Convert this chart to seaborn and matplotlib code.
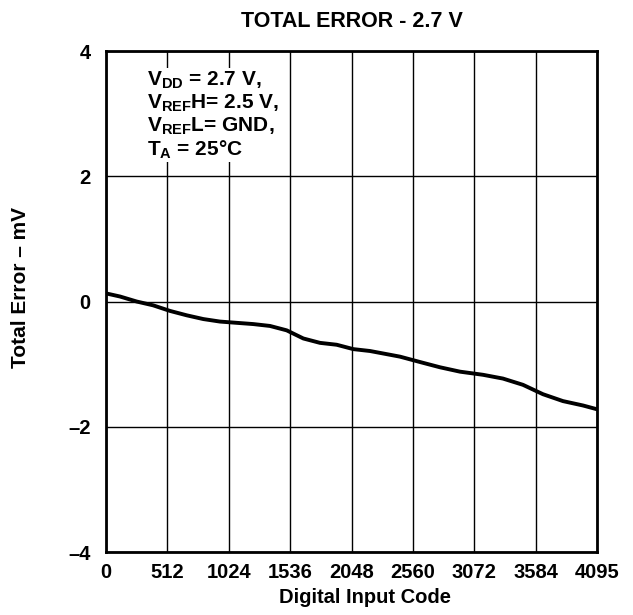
import numpy as np
import pandas as pd
import matplotlib
matplotlib.use("Agg")
import matplotlib.pyplot as plt
import seaborn as sns

# valores (codigo de entrada vs error total en mV)
codigos = [0, 117, 256, 392, 534, 673, 812, 951, 1090, 1229, 1368, 1507,
           1646, 1785, 1924, 2063, 2202, 2341, 2452, 2627, 2786, 2953, 3145,
           3311, 3478, 3645, 3812, 3979, 4095]
error_mv = [0.13, 0.08, 0.00, -0.06, -0.15, -0.22, -0.28, -0.32, -0.34, -0.36,
            -0.39, -0.46, -0.59, -0.66, -0.69, -0.76, -0.79, -0.84, -0.88,
            -0.97, -1.05, -1.12, -1.17, -1.23, -1.33, -1.48, -1.59, -1.66, -1.72]
xticks = [0, 512, 1024, 1536, 2048, 2560, 3072, 3584, 4095]
yticks = [-4, -2, 0, 2, 4]
ytick_labels = ["\u20134", "\u20132", "0", "2", "4"]

df = pd.DataFrame({"Codigo": codigos, "Error": error_mv})

sns.set_theme(style="white", rc={"text.color": "black", "axes.labelcolor": "black",
                                 "xtick.color": "black", "ytick.color": "black"})
plt.rcParams["font.family"] = ["Liberation Sans", "DejaVu Sans"]
plt.rcParams["mathtext.fontset"] = "custom"
plt.rcParams["mathtext.rm"] = "Liberation Sans:bold"
plt.rcParams["mathtext.bf"] = "Liberation Sans:bold"

fig = plt.figure(figsize=(6.33, 6.15), dpi=100)
ax = fig.add_axes([0.1675, 0.1024, 0.7755, 0.8146])

sns.lineplot(x="Codigo", y="Error", data=df, color="black", linewidth=2.8, ax=ax)

ax.set_xlim(0, 4095)
ax.set_ylim(-4, 4)
ax.set_xticks(xticks)
ax.set_yticks(yticks)
ax.set_yticklabels(ytick_labels)
ax.grid(True, color="black", linewidth=1)
for s in ax.spines.values():
    s.set_color("black")
    s.set_linewidth(2)
ax.tick_params(axis="x", length=0, labelsize=14.5, pad=8)
ax.tick_params(axis="y", length=0, labelsize=14.5, pad=11)
for lab in ax.get_xticklabels() + ax.get_yticklabels():
    lab.set_fontweight("bold")

ax.set_xlabel("Digital Input Code", fontsize=14.5, fontweight="bold")
ax.xaxis.set_label_coords(0.527, -0.072)
ax.set_ylabel("Total Error \u2013 mV", fontsize=15, fontweight="bold")
ax.yaxis.set_label_coords(-0.155, 0.528)
ax.set_title("TOTAL ERROR - 2.7 V", fontsize=15.5, fontweight="bold", pad=17)

notas = (r"$\mathregular{V_{DD}}$ = 2.7 V," "\n"
         r"$\mathregular{V_{REF}}$H= 2.5 V," "\n"
         r"$\mathregular{V_{REF}}$L= GND," "\n"
         r"$\mathregular{T_{A}}$ = 25$\mathregular{\degree}$C")
ax.text(0.083, 0.963, notas, transform=ax.transAxes, fontsize=15,
        fontweight="bold", va="top", ha="left", linespacing=1.1,
        bbox=dict(facecolor="white", edgecolor="none", pad=1))

fig.savefig("out.png", dpi=100)
